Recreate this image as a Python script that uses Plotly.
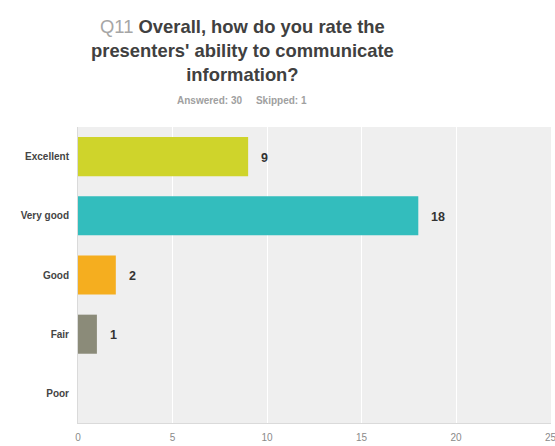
import plotly.graph_objects as go

categories = ["Excellent", "Very good", "Good", "Fair", "Poor"]
responses = [9, 18, 2, 1, 0]
bar_colors = ["#CFD42B", "#33BDBD", "#F5AE1F", "#8B8B79", "#CCCCCC"]
x_ticks = [0, 5, 10, 15, 20, 25]

fig = go.Figure(
    go.Bar(
        x=responses,
        y=categories,
        orientation="h",
        marker=dict(color=bar_colors, line=dict(width=0)),
        hoverinfo="skip",
    )
)

# value labels to the right of each bar (skip empty categories)
for cat, val in zip(categories, responses):
    if val > 0:
        fig.add_annotation(
            x=val, y=cat, text=f"<b>{val}</b>", showarrow=False,
            xanchor="left", xshift=11, yshift=-1,
            font=dict(family="Liberation Sans, Arial, sans-serif", size=12.5, color="#333333"),
        )

fig.add_annotation(
    xref="paper", yref="paper", x=0.347, y=1.0, yshift=113,
    text=("<span style='color:#A6A6A6'>Q11</span> <b>Overall, how do you rate the</b><br>"
          "<b>presenters' ability to communicate</b><br><b>information?</b>"),
    showarrow=False, xanchor="center", yanchor="top", align="center",
    font=dict(family="Liberation Sans, Arial, sans-serif", size=18.4, color="#404040"),
)
fig.add_annotation(
    xref="paper", yref="paper", x=0.347, y=1.0, yshift=27,
    text="<b>Answered: 30</b>&nbsp;&nbsp;&nbsp;&nbsp;&nbsp;<b>Skipped: 1</b>",
    showarrow=False, xanchor="center", yanchor="middle",
    font=dict(family="Liberation Sans, Arial, sans-serif", size=10, color="#A0A0A0"),
)

fig.update_layout(
    width=555, height=446,
    margin=dict(l=78, r=4, t=127, b=23, autoexpand=False),
    paper_bgcolor="white",
    plot_bgcolor="#EFEFEF",
    bargap=0.34,
    showlegend=False,
    font=dict(family="Liberation Sans, Arial, sans-serif"),
)
fig.update_xaxes(
    range=[0, 25.02], tickvals=x_ticks, showgrid=True, gridcolor="#FFFFFF", gridwidth=1,
    zeroline=False, showline=True, linecolor="#DADADA",
    tickfont=dict(size=10, color="#8A8A8A"), ticklen=0, ticklabelstandoff=5,
    ticklabeloverflow="allow", automargin=False,
)
fig.update_yaxes(
    categoryorder="array", categoryarray=categories[::-1],
    showgrid=False, zeroline=False, showline=True, linecolor="#DADADA",
    tickfont=dict(size=10, color="#444444"), ticklabelstandoff=6, automargin=False,
)
fig.update_yaxes(ticktext=[f"<b>{c}</b>" for c in categories], tickvals=categories)

fig.write_html("out.html")
